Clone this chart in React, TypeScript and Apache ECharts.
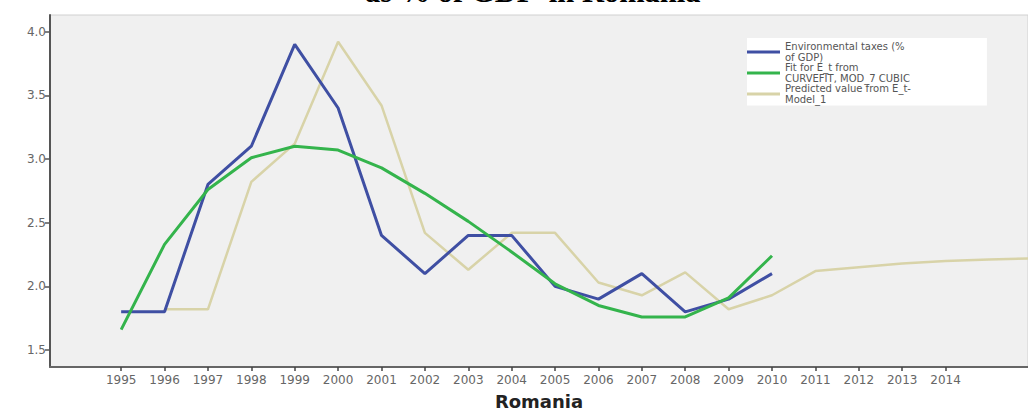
import React, { useEffect, useRef } from "react";
import * as echarts from "echarts";

const years = [1995, 1996, 1997, 1998, 1999, 2000, 2001, 2002, 2003, 2004, 2005, 2006, 2007, 2008, 2009, 2010, 2011, 2012, 2013, 2014];
const yTicks = [1.5, 2.0, 2.5, 3.0, 3.5, 4.0];

const envYears = [1995, 1996, 1997, 1998, 1999, 2000, 2001, 2002, 2003, 2004, 2005, 2006, 2007, 2008, 2009, 2010];
const envTaxes = [1.8, 1.8, 2.8, 3.1, 3.9, 3.4, 2.4, 2.1, 2.4, 2.4, 2.0, 1.9, 2.1, 1.8, 1.9, 2.1];

const fitYears = [1995, 1996, 1997, 1998, 1999, 2000, 2001, 2002, 2003, 2004, 2005, 2006, 2007, 2008, 2009, 2010];
const fitCubic = [1.66, 2.33, 2.76, 3.01, 3.1, 3.07, 2.93, 2.73, 2.51, 2.27, 2.02, 1.85, 1.76, 1.76, 1.91, 2.24];

const predYears = [1996, 1997, 1998, 1999, 2000, 2001, 2002, 2003, 2004, 2005, 2006, 2007, 2008, 2009, 2010, 2011, 2012, 2013, 2014, 2015, 2016];
const predicted = [1.82, 1.82, 2.82, 3.12, 3.92, 3.42, 2.42, 2.13, 2.42, 2.42, 2.03, 1.93, 2.11, 1.82, 1.93, 2.12, 2.15, 2.18, 2.2, 2.21, 2.22];

const seriesNames = [
  "Environmental taxes (%\nof GDP)",
  "Fit for E_t from\nCURVEFIT, MOD_7 CUBIC",
  "Predicted value from E_t-\nModel_1",
];
const seriesColors = ["#3f4fa3", "#34b44c", "#d8d3a8"];

const pair = (xs: number[], ys: number[]) => xs.map((x, i) => [x, ys[i]]);

export default function App() {
  const ref = useRef<HTMLDivElement>(null);
  useEffect(() => {
    if (!ref.current) return;
    const chart = echarts.init(ref.current, null, { renderer: "svg" });
    const axisFont = { fontFamily: "DejaVu Sans", fontSize: 12, color: "#666" };
    chart.setOption({
      animation: false,
      backgroundColor: "#ffffff",
      graphic: [
        {
          type: "text",
          x: 365,
          y: -8,
          style: {
            text: "as % of GDP  in Romania",
            fontFamily: "Liberation Serif",
            fontWeight: "bold",
            fontSize: 30.5,
            fill: "#000",
            verticalAlign: "middle",
            align: "left",
          },
          z: 10,
        },
      ],
      grid: {
        left: 50,
        right: 0,
        top: 15,
        bottom: 36,
        show: true,
        backgroundColor: "#f0f0f0",
        borderColor: "#d0d0d0",
        borderWidth: 1,
      },
      legend: {
        orient: "vertical",
        left: 747,
        top: 38,
        padding: [3.5, 76, 1, 0],
        backgroundColor: "#ffffff",
        itemWidth: 33,
        itemHeight: 3,
        itemGap: 0,
        icon: "rect",
        textStyle: { fontFamily: "DejaVu Sans", fontSize: 10, lineHeight: 10.5, color: "#555" },
        data: seriesNames,
      },
      xAxis: {
        type: "value",
        min: 1993.36,
        max: 2015.9,
        name: "Romania",
        nameLocation: "middle",
        nameGap: 25,
        nameTextStyle: { fontFamily: "DejaVu Sans", fontWeight: "bold", fontSize: 18, color: "#222" },
        axisLine: { show: true, lineStyle: { color: "#666", width: 2 } },
        axisTick: { show: true, customValues: years, length: 4, lineStyle: { color: "#444", width: 1.5 } },
        axisLabel: { ...axisFont, customValues: years, margin: 7, formatter: (v: number) => String(v) },
        splitLine: { show: false },
      },
      yAxis: {
        type: "value",
        min: 1.367,
        max: 4.13,
        axisLine: { show: true, lineStyle: { color: "#555", width: 2 } },
        axisTick: { show: true, customValues: yTicks, length: 5, lineStyle: { color: "#555", width: 1.5 } },
        axisLabel: { ...axisFont, customValues: yTicks, margin: 4, formatter: (v: number) => v.toFixed(1) },
        splitLine: { show: false },
      },
      series: [
        {
          name: seriesNames[0],
          type: "line",
          data: pair(envYears, envTaxes),
          symbol: "none",
          lineStyle: { color: seriesColors[0], width: 3 },
          itemStyle: { color: seriesColors[0] },
          z: 3,
        },
        {
          name: seriesNames[1],
          type: "line",
          data: pair(fitYears, fitCubic),
          symbol: "none",
          lineStyle: { color: seriesColors[1], width: 3 },
          itemStyle: { color: seriesColors[1] },
          z: 4,
        },
        {
          name: seriesNames[2],
          type: "line",
          data: pair(predYears, predicted),
          symbol: "none",
          lineStyle: { color: seriesColors[2], width: 2.5 },
          itemStyle: { color: seriesColors[2] },
          z: 2,
        },
      ],
    });
    return () => chart.dispose();
  }, []);
  return (
    <div
      ref={ref}
      style={{ position: "absolute", left: 0, top: 0, width: 1028, height: 415, background: "#fff" }}
    />
  );
}
